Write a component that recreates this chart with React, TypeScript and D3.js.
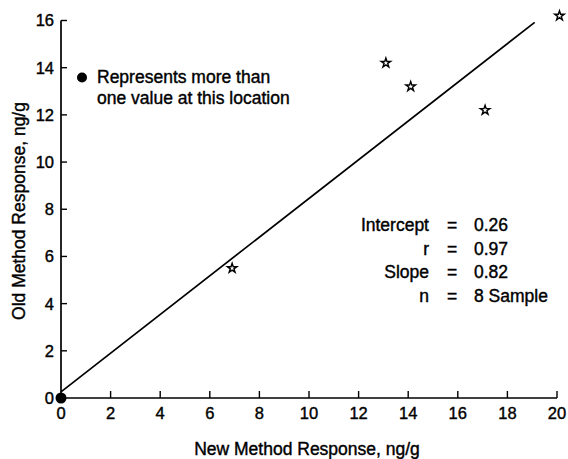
import React, { useEffect, useRef } from 'react';
import * as d3 from 'd3';

// star points: new method vs old method response (ng/g)
const starNew = [6.9, 13.1, 14.1, 17.1, 20.1];
const starOld = [5.5, 14.2, 13.2, 12.2, 16.2];
// filled dot = more than one value at this location
const dotNew = [0];
const dotOld = [0];

const xTicks = [0, 2, 4, 6, 8, 10, 12, 14, 16, 18, 20];
const yTicks = [0, 2, 4, 6, 8, 10, 12, 14, 16];

const fitIntercept = 0.26;
const fitSlope = 0.82;
const fitRange = [0, 19.1];

const statLabels = ['Intercept', 'r', 'Slope', 'n'];
const statValues = ['0.26', '0.97', '0.82', '8 Sample'];

const legendLines = ['Represents more than', 'one value at this location'];

const FONT = "'Liberation Sans', Arial, Helvetica, sans-serif";

const App = () => {
    const svgRef = useRef<SVGSVGElement>(null);

    useEffect(() => {
        const W = 568, H = 459;
        const svg = d3.select(svgRef.current)
            .attr('width', W)
            .attr('height', H)
            .html('');

        const x = d3.scaleLinear().domain([0, 20]).range([61, 557]);
        const y = d3.scaleLinear().domain([0, 16]).range([398, 20.5]);
        const ink = '#000';

        // scanned print looks heavy, so thicken the glyphs a little
        const txt = (sel: any, size: string) => sel
            .style('font-family', FONT)
            .style('font-size', size)
            .attr('fill', ink)
            .attr('stroke', ink)
            .attr('stroke-width', 0.4);

        // axes as plain lines, ticks pointing inward
        svg.append('line')
            .attr('x1', x(0)).attr('y1', y(0))
            .attr('x2', x(20)).attr('y2', y(0))
            .attr('stroke', ink).attr('stroke-width', 1.7);
        svg.append('line')
            .attr('x1', x(0)).attr('y1', y(0))
            .attr('x2', x(0)).attr('y2', y(16))
            .attr('stroke', ink).attr('stroke-width', 1.7);

        svg.selectAll('.xtick')
            .data(xTicks.filter(d => d > 0))
            .enter().append('line')
            .attr('x1', d => x(d)).attr('x2', d => x(d))
            .attr('y1', y(0)).attr('y2', y(0) - 7)
            .attr('stroke', ink).attr('stroke-width', 1.4);

        svg.selectAll('.ytick')
            .data(yTicks.filter(d => d > 0))
            .enter().append('line')
            .attr('x1', x(0)).attr('x2', x(0) + 6)
            .attr('y1', d => y(d)).attr('y2', d => y(d))
            .attr('stroke', ink).attr('stroke-width', 1.4);

        txt(svg.selectAll('.xlab')
            .data(xTicks)
            .enter().append('text')
            .attr('x', d => x(d))
            .attr('y', 419)
            .attr('text-anchor', 'middle'), '16.5px')
            .text(d => d);

        txt(svg.selectAll('.ylab')
            .data(yTicks)
            .enter().append('text')
            .attr('x', 54)
            .attr('y', d => y(d))
            .attr('dy', '0.36em')
            .attr('text-anchor', 'end'), '16.5px')
            .text(d => d);

        // axis titles
        txt(svg.append('text')
            .attr('x', 307).attr('y', 455)
            .attr('text-anchor', 'middle'), '17.5px')
            .text('New Method Response, ng/g');

        txt(svg.append('text')
            .attr('transform', 'translate(25,211) rotate(-90)')
            .attr('text-anchor', 'middle'), '17.5px')
            .text('Old Method Response, ng/g');

        // regression line
        const line = d3.line<number>()
            .x(d => x(d))
            .y(d => y(fitIntercept + fitSlope * d));
        svg.append('path')
            .datum(fitRange)
            .attr('d', line)
            .attr('fill', 'none')
            .attr('stroke', ink)
            .attr('stroke-width', 1.7);

        // stars
        const star = d3.symbol().type(d3.symbolStar).size(28);
        svg.selectAll('.star')
            .data(starNew.map((d, i) => ({ nx: d, oy: starOld[i] })))
            .enter().append('path')
            .attr('d', star)
            .attr('transform', d => `translate(${x(d.nx)},${y(d.oy)})`)
            .attr('fill', '#fff')
            .attr('stroke', ink)
            .attr('stroke-width', 1.4);

        // dot at origin
        svg.selectAll('.dot')
            .data(dotNew.map((d, i) => ({ nx: d, oy: dotOld[i] })))
            .enter().append('circle')
            .attr('cx', d => x(d.nx))
            .attr('cy', d => y(d.oy))
            .attr('r', 5.5)
            .attr('fill', ink);

        // legend
        svg.append('circle')
            .attr('cx', 82).attr('cy', 77.5)
            .attr('r', 5)
            .attr('fill', ink);
        txt(svg.selectAll('.leg')
            .data(legendLines)
            .enter().append('text')
            .attr('x', 97)
            .attr('y', (d, i) => 83 + i * 21), '17.5px')
            .text(d => d);

        // fit statistics
        const stats = svg.append('g');
        statLabels.forEach((lab, i) => {
            const by = 231 + i * 23.5;
            txt(stats.append('text')
                .attr('x', 429).attr('y', by)
                .attr('text-anchor', 'end'), '17.5px')
                .text(lab);
            txt(stats.append('text')
                .attr('x', 452).attr('y', by)
                .attr('text-anchor', 'middle'), '17.5px')
                .text('=');
            txt(stats.append('text')
                .attr('x', 474).attr('y', by), '17.5px')
                .text(statValues[i]);
        });
    }, []);

    return (
        <svg ref={svgRef} style={{ position: 'absolute', left: 0, top: 0, background: '#fff' }} />
    );
};

export default App;
